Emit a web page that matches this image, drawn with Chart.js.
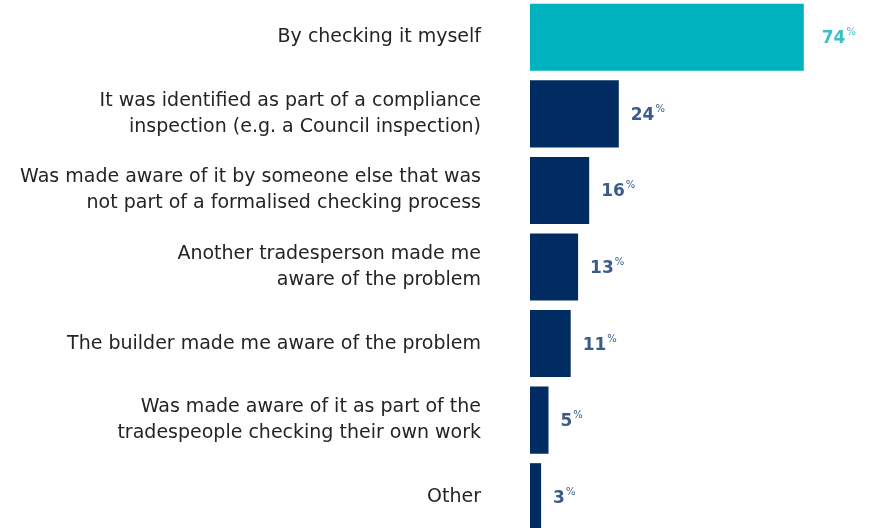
<!DOCTYPE html>
<html>
<head>
<meta charset="utf-8">
<script src="https://cdn.jsdelivr.net/npm/chart.js@4"></script>
<style>
  html, body { margin: 0; padding: 0; background: #fff; overflow: hidden; }
  #wrap { position: absolute; left: 0; top: -1px; width: 870px; height: 536px; }
</style>
</head>
<body>
<div id="wrap"><canvas id="c"></canvas></div>
<script>
// How the problem was identified (share of respondents, %)
const categories = [
  ["By checking it myself"],
  ["It was identified as part of a compliance", "inspection (e.g. a Council inspection)"],
  ["Was made aware of it by someone else that was", "not part of a formalised checking process"],
  ["Another tradesperson made me", "aware of the problem"],
  ["The builder made me aware of the problem"],
  ["Was made aware of it as part of the", "tradespeople checking their own work"],
  ["Other"]
];
const shares = [74, 24, 16, 13, 11, 5, 3];

const TEAL = '#00B1BE';
const NAVY = '#002C61';
const TEAL_TEXT = '#3DBFC8';
const NAVY_TEXT = '#3A5B8C';
const FONT = "'DejaVu Sans', sans-serif";

const barColors = shares.map((v, i) => i === 0 ? TEAL : NAVY);

// Draws "NN%" after each bar, with a small raised percent sign
const valueLabels = {
  id: 'valueLabels',
  afterDatasetsDraw(chart) {
    const ctx = chart.ctx;
    const meta = chart.getDatasetMeta(0);
    ctx.save();
    meta.data.forEach((bar, i) => {
      const v = chart.data.datasets[0].data[i];
      const x0 = bar.x + (i === 0 ? 18 : 12);
      const y = bar.y;
      ctx.fillStyle = i === 0 ? TEAL_TEXT : NAVY_TEXT;
      ctx.textBaseline = 'alphabetic';
      ctx.textAlign = 'left';
      ctx.font = "bold 17px " + FONT;
      const num = String(v);
      ctx.fillText(num, x0, y + 6);
      const w = ctx.measureText(num).width;
      ctx.font = "10px " + FONT;
      ctx.fillText('%', x0 + w + 1, y - 2);
    });
    ctx.restore();
  }
};

new Chart(document.getElementById('c'), {
  type: 'bar',
  data: {
    labels: categories,
    datasets: [{
      data: shares,
      backgroundColor: barColors,
      borderWidth: 0,
      categoryPercentage: 1,
      barPercentage: 0.876
    }]
  },
  options: {
    indexAxis: 'y',
    responsive: true,
    maintainAspectRatio: false,
    animation: false,
    layout: { padding: 0 },
    plugins: { legend: { display: false }, tooltip: { enabled: false } },
    scales: {
      x: {
        display: false,
        min: 0,
        max: 91.9,
        grid: { display: false }
      },
      y: {
        grid: { display: false, drawTicks: false },
        border: { display: false },
        afterFit(scale) {
          scale.width = 530;
          // let the category bands fill the full height
          scale.paddingTop = 0;
          scale.paddingBottom = 0;
        },
        ticks: {
          padding: 49,
          color: '#242424',
          font: { family: FONT, size: 19, lineHeight: 1.37 },
          autoSkip: false
        }
      }
    }
  },
  plugins: [valueLabels]
});
</script>
</body>
</html>
